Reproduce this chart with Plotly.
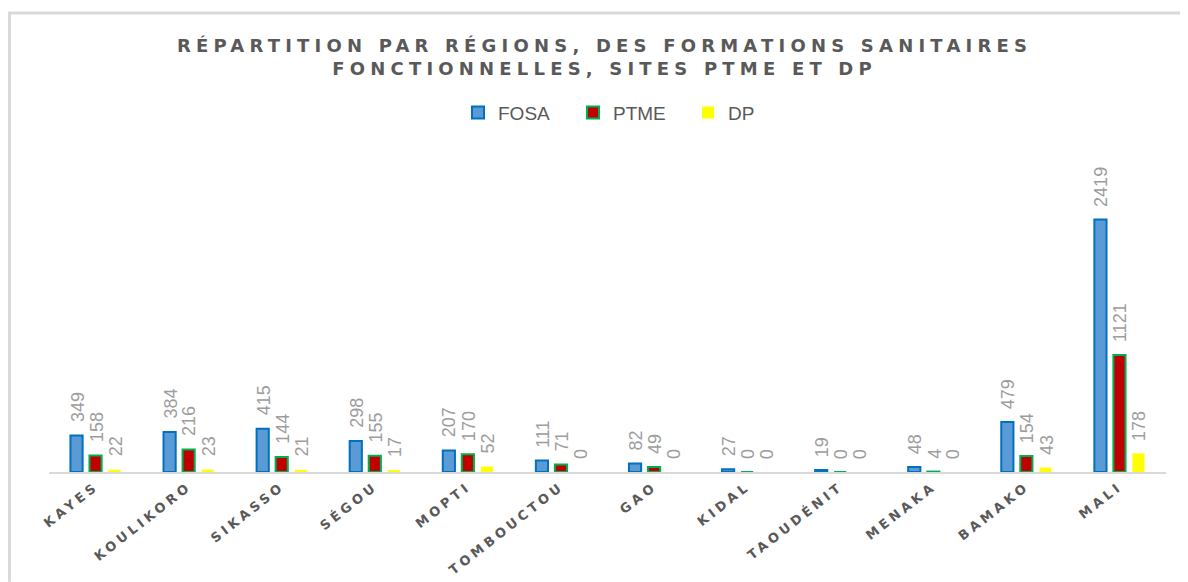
import plotly.graph_objects as go

regions = ["KAYES", "KOULIKORO", "SIKASSO", "SÉGOU", "MOPTI", "TOMBOUCTOU",
           "GAO", "KIDAL", "TAOUDÉNIT", "MENAKA", "BAMAKO", "MALI"]
fosa = [349, 384, 415, 298, 207, 111, 82, 27, 19, 48, 479, 2419]
ptme = [158, 216, 144, 155, 170, 71, 49, 0, 0, 4, 154, 1121]
dp = [22, 23, 21, 17, 52, 0, 0, 0, 0, 0, 43, 178]

# the page body has an 8px margin, so the figure is drawn 8px in from the corner
OFF = 8
W, H = 1188 - OFF, 582 - OFF
ML, MR, MT, MB = 49 - OFF, 22, 210.5 - OFF, 110
PW, PH = W - ML - MR, H - MT - MB
BARGAP = 0.387
SLOT = PW / len(regions) * (1 - BARGAP) / 3


def px_x(p):
    return (p - OFF - ML) / PW


def px_y(p):
    return (H - MB - (p - OFF)) / PH


series = [
    ("FOSA", fosa, dict(color="#5B9BD5", line=dict(color="#0070C0", width=2))),
    ("PTME", ptme, dict(color="#C00000", line=dict(color="#00B050", width=2))),
    ("DP", dp, dict(color="#FFFF00", line=dict(width=0))),
]

fig = go.Figure()
annotations = []
for i, (name, vals, marker) in enumerate(series):
    fig.add_trace(go.Bar(name=name, x=regions, y=vals, marker=marker))
    for r, v in zip(regions, vals):
        annotations.append(dict(
            x=r, y=v, xref="x", yref="y", text=str(v), textangle=-90,
            xanchor="center", yanchor="bottom", showarrow=False,
            xshift=(i - 1) * SLOT + 1, yshift=11,
            font=dict(family="Liberation Sans", size=18, color="#9d9d9d"),
        ))

annotations.append(dict(
    text="RÉPARTITION PAR RÉGIONS, DES FORMATIONS SANITAIRES<br>FONCTIONNELLES, SITES PTME ET DP",
    xref="paper", yref="paper", x=px_x(604), y=px_y(56), xanchor="center", yanchor="middle",
    showarrow=False, align="center",
    font=dict(family="DejaVu Sans", size=18, color="#595959", weight="bold"),
    name="title",
))

fig.update_layout(
    width=W, height=H,
    margin=dict(l=ML, r=MR, t=MT, b=MB, autoexpand=False),
    paper_bgcolor="white", plot_bgcolor="white",
    barmode="group", bargap=BARGAP, bargroupgap=0.36,
    showlegend=True,
    legend=dict(orientation="h", x=px_x(458), xanchor="left", y=px_y(112), yanchor="middle",
                font=dict(family="Liberation Sans", size=19, color="#595959"),
                itemwidth=30, entrywidth=70, entrywidthmode="pixels", traceorder="normal"),
    xaxis=dict(tickangle=-38, showline=True, linecolor="#d9d9d9", linewidth=2,
               ticks="", tickfont=dict(family="DejaVu Sans", size=13, color="#595959", weight="bold")),
    yaxis=dict(range=[0, 2500], visible=False, showgrid=False),
    annotations=annotations,
    shapes=[
        dict(type="line", xref="paper", yref="paper", x0=px_x(8), x1=px_x(1188), y0=px_y(12), y1=px_y(12),
             line=dict(color="#d9d9d9", width=3)),
        dict(type="line", xref="paper", yref="paper", x0=px_x(9.5), x1=px_x(9.5), y0=px_y(11), y1=px_y(582),
             line=dict(color="#d9d9d9", width=3)),
    ],
)

post = """
function spaceOut(){
  var a = document.querySelectorAll('.annotation-text');
  var t = a[a.length - 1];
  if (t) { t.style.letterSpacing = '5.2px'; }
  document.querySelectorAll('.xtick text').forEach(function(e){ e.style.letterSpacing='3.7px'; });
}
spaceOut();
setTimeout(spaceOut, 50);
"""

fig.write_html("out.html", post_script=post)
